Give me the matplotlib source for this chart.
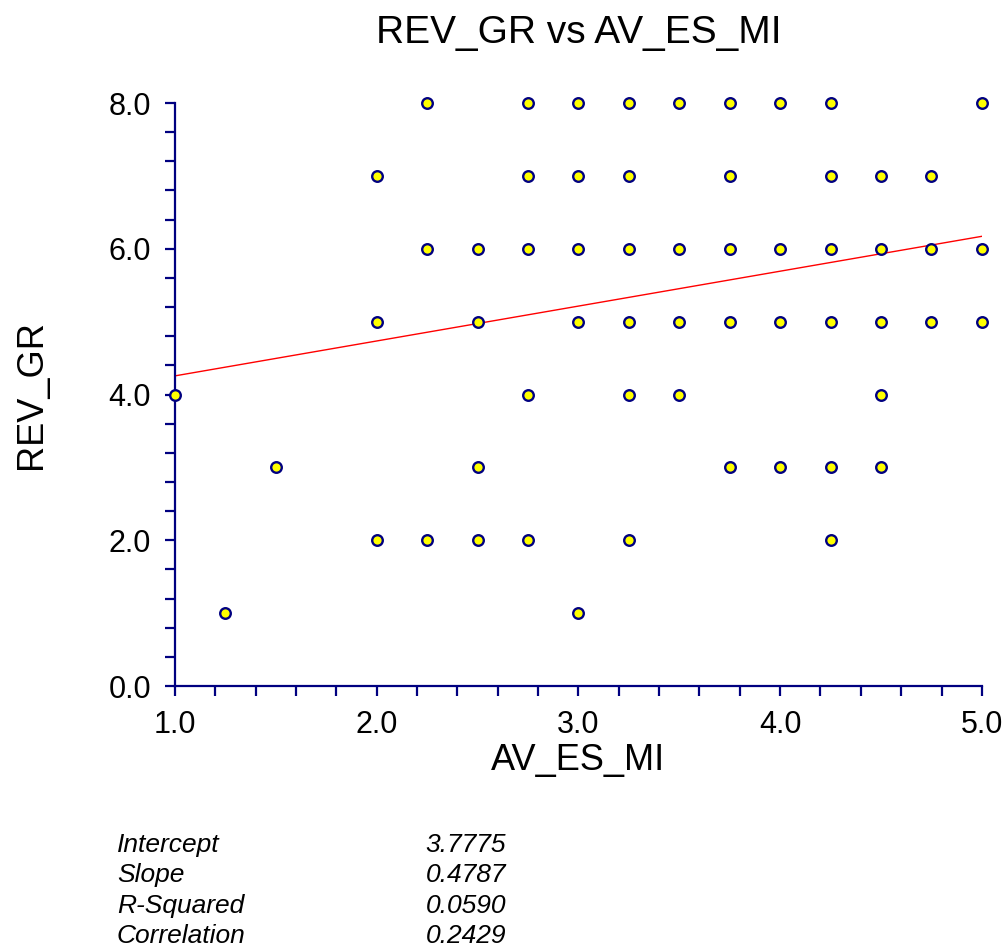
import numpy as np
import matplotlib
matplotlib.use('Agg')
from matplotlib import pyplot as plt
from matplotlib.ticker import MultipleLocator, FormatStrFormatter

plt.rcParams['font.family'] = ['Liberation Sans', 'DejaVu Sans']

# AV_ES_MI values per REV_GR level
x_8 = [2.25, 2.75, 3.0, 3.25, 3.5, 3.75, 4.0, 4.25, 5.0]
x_7 = [2.0, 2.75, 3.0, 3.25, 3.75, 4.25, 4.5, 4.75]
x_6 = [2.25, 2.5, 2.75, 3.0, 3.25, 3.5, 3.75, 4.0, 4.25, 4.5, 4.75, 5.0]
x_5 = [2.0, 2.5, 3.0, 3.25, 3.5, 3.75, 4.0, 4.25, 4.5, 4.75, 5.0]
x_4 = [1.0, 2.75, 3.25, 3.5, 4.5]
x_3 = [1.5, 2.5, 3.75, 4.0, 4.25, 4.5]
x_2 = [2.0, 2.25, 2.5, 2.75, 3.25, 4.25]
x_1 = [1.25, 3.0]

groups = {8: x_8, 7: x_7, 6: x_6, 5: x_5, 4: x_4, 3: x_3, 2: x_2, 1: x_1}
av_es_mi = np.array([x for lvl in groups for x in groups[lvl]])
rev_gr = np.array([lvl for lvl in groups for x in groups[lvl]])

stat_names = ['Intercept', 'Slope', 'R-Squared', 'Correlation']
stat_values = [3.7775, 0.4787, 0.0590, 0.2429]
intercept, slope = stat_values[0], stat_values[1]

navy = '#000080'

fig = plt.figure(figsize=(10.06, 9.46), dpi=100)
ax = fig.add_axes([0.174, 0.2748, 0.802, 0.6163])

xl = np.array([1.0, 5.0])
ax.plot(xl, intercept + slope * xl, color='red', lw=1.0, zorder=2)
ax.scatter(av_es_mi, rev_gr, s=58, c='yellow', edgecolors=navy, linewidths=1.7,
           zorder=3, clip_on=False)

ax.set_xlim(1.0, 5.0)
ax.set_ylim(0.0, 8.0)
ax.xaxis.set_major_locator(MultipleLocator(1.0))
ax.xaxis.set_minor_locator(MultipleLocator(0.2))
ax.yaxis.set_major_locator(MultipleLocator(2.0))
ax.yaxis.set_minor_locator(MultipleLocator(0.4))
ax.xaxis.set_major_formatter(FormatStrFormatter('%.1f'))
ax.yaxis.set_major_formatter(FormatStrFormatter('%.1f'))

for s in ['top', 'right']:
    ax.spines[s].set_visible(False)
for s in ['left', 'bottom']:
    ax.spines[s].set_color(navy)
    ax.spines[s].set_linewidth(1.6)

ax.tick_params(which='both', direction='out', length=7.3, width=1.6, color=navy,
               labelsize=22, pad=10)

ax.set_title('REV_GR vs AV_ES_MI', fontsize=28, pad=43)
ax.set_xlabel('AV_ES_MI', fontsize=26, labelpad=2)
ax.set_ylabel('REV_GR', fontsize=26, labelpad=43)

for i, (n, v) in enumerate(zip(stat_names, stat_values)):
    y = 1 - (845 + i * 30.3) / 946
    fig.text(117 / 1006, y, n, fontsize=19, style='italic', va='center', ha='left')
    fig.text(506 / 1006, y, f'{v:.4f}', fontsize=19, style='italic', va='center', ha='right')

fig.savefig('out.png', dpi=100)
